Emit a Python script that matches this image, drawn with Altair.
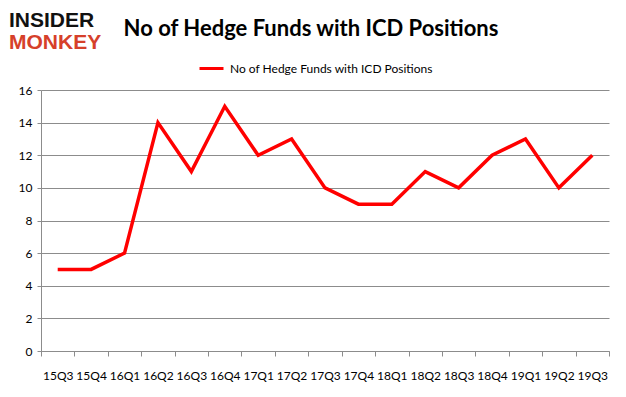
import altair as alt
import pandas as pd

quarters = ["15Q3", "15Q4", "16Q1", "16Q2", "16Q3", "16Q4", "17Q1", "17Q2", "17Q3",
            "17Q4", "18Q1", "18Q2", "18Q3", "18Q4", "19Q1", "19Q2", "19Q3"]
funds = [5, 5, 6, 14, 11, 15, 12, 13, 10, 9, 9, 11, 10, 12, 13, 10, 12]
series_name = "No of Hedge Funds with ICD Positions"
title_text = "No of Hedge Funds with ICD Positions"
logo_words = ["INSIDER", "MONKEY"]
y_ticks = [0, 2, 4, 6, 8, 10, 12, 14, 16]

df = pd.DataFrame({"quarter": quarters, "funds": funds, "series": series_name})
one = pd.DataFrame({"k": [0]})

FONT = "Lato"
GRID = "#8c8c8c"

line = alt.Chart(df).mark_line(strokeWidth=3.5, strokeJoin="miter").encode(
    x=alt.X("quarter:O", sort=quarters,
            scale=alt.Scale(type="band", paddingInner=0, paddingOuter=0),
            axis=alt.Axis(title=None, labelAngle=0, tickBand="extent", grid=False,
                          domainColor=GRID, tickColor=GRID, tickSize=5,
                          labelPadding=14, labelFont=FONT, labelFontSize=12,
                          labelColor="#000000")),
    y=alt.Y("funds:Q", scale=alt.Scale(domain=[0, 16], nice=False),
            axis=alt.Axis(title=None, values=y_ticks, grid=True, gridColor=GRID,
                          domainColor=GRID, tickColor=GRID, tickSize=4,
                          labelPadding=5, labelFont=FONT, labelFontSize=12,
                          labelColor="#000000")),
    color=alt.Color("series:N", scale=alt.Scale(range=["#ff0000"]),
                    legend=alt.Legend(title=None, orient="none", legendX=157, legendY=-35,
                                      symbolType="stroke", symbolStrokeWidth=3,
                                      symbolSize=576, labelFont=FONT, labelFontSize=12,
                                      labelLimit=0, labelOffset=5,
                                      labelColor="#000000")),
)

title = alt.Chart(one).mark_text(text=title_text, font=FONT, fontSize=22,
                                 fontWeight="bold", color="#000000", align="center",
                                 baseline="alphabetic").encode(
    x=alt.value(270), y=alt.value(-54))
logo_top = alt.Chart(one).mark_text(text=logo_words[0], font="Liberation Sans", fontSize=21,
                                    fontWeight="bold", color="#111111", align="left",
                                    baseline="alphabetic").encode(
    x=alt.value(-32), y=alt.value(-63))
logo_bot = alt.Chart(one).mark_text(text=logo_words[1], font="Liberation Sans", fontSize=21,
                                    fontWeight="bold", color="#d6402a", align="left",
                                    baseline="alphabetic").encode(
    x=alt.value(-32), y=alt.value(-41))

chart = alt.layer(line, title, logo_top, logo_bot).properties(
    width=568, height=261,
    autosize=alt.AutoSizeParams(type="none"),
    padding={"left": 33, "right": 9, "top": 82, "bottom": 38},
).configure_view(stroke=None).configure_axis(domainWidth=1, gridWidth=1)

chart.save("out.html", embed_options={"renderer": "svg", "actions": False})
